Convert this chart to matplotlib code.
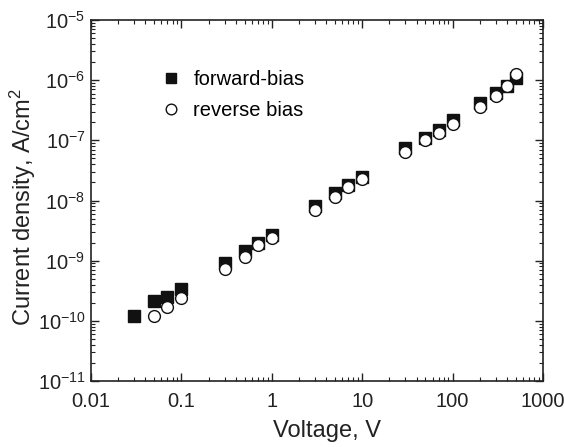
import matplotlib
matplotlib.use('Agg')
import matplotlib.pyplot as plt
from matplotlib.ticker import LogLocator, FixedLocator, FixedFormatter, NullFormatter

plt.rcParams['font.family'] = ['Liberation Sans', 'DejaVu Sans']
plt.rcParams['mathtext.fontset'] = 'custom'
plt.rcParams['mathtext.rm'] = 'Liberation Sans'
plt.rcParams['mathtext.it'] = 'Liberation Sans:italic'

# forward bias data
fwd_v = [0.03, 0.05, 0.07, 0.1, 0.3, 0.5, 0.7, 1, 3, 5, 7, 10,
         30, 50, 70, 100, 200, 300, 400, 500]
fwd_j = [1.2e-10, 2.1e-10, 2.5e-10, 3.4e-10, 9.0e-10, 1.45e-9, 2.0e-9, 2.7e-9,
         8.1e-9, 1.35e-8, 1.8e-8, 2.5e-8,
         7.4e-8, 1.1e-7, 1.5e-7, 2.2e-7, 4.2e-7, 6.1e-7, 8.0e-7, 1.1e-6]

# reverse bias data
rev_v = [0.05, 0.07, 0.1, 0.3, 0.5, 0.7, 1, 3, 5, 7, 10,
         30, 50, 70, 100, 200, 300, 400, 500]
rev_j = [1.2e-10, 1.7e-10, 2.4e-10, 7.2e-10, 1.15e-9, 1.8e-9, 2.4e-9,
         6.9e-9, 1.15e-8, 1.7e-8, 2.3e-8,
         6.5e-8, 1.0e-7, 1.3e-7, 1.9e-7, 3.6e-7, 5.5e-7, 8.0e-7, 1.26e-6]

x_ticks = [0.01, 0.1, 1, 10, 100, 1000]
x_labels = ['0.01', '0.1', '1', '10', '100', '1000']

fig = plt.figure(figsize=(5.64, 4.47), dpi=100)
ax = fig.add_axes([91/564, 1 - 381/447, (543-91)/564, (381-20)/447])

ax.plot(fwd_v, fwd_j, 's', color='#111111', ms=8, ls='none', label='forward-bias')
ax.plot(rev_v, rev_j, 'o', mfc='white', mec='#111111', mew=1.0, ms=8.5, ls='none',
        label='reverse bias')

ax.set_xscale('log')
ax.set_yscale('log')
ax.set_xlim(0.01, 1000)
ax.set_ylim(1e-11, 1e-5)

ax.xaxis.set_major_locator(FixedLocator(x_ticks))
ax.xaxis.set_major_formatter(FixedFormatter(x_labels))
ax.xaxis.set_minor_locator(LogLocator(base=10, subs=range(2, 10), numticks=20))
ax.xaxis.set_minor_formatter(NullFormatter())
ax.yaxis.set_major_locator(LogLocator(base=10, numticks=20))
ax.yaxis.set_minor_locator(LogLocator(base=10, subs=range(2, 10), numticks=20))
ax.yaxis.set_minor_formatter(NullFormatter())

ax.tick_params(which='both', direction='in', top=True, right=True, labelsize=14.5,
               color='#222222', labelcolor='#222222')
ax.tick_params(which='major', length=6, width=1)
ax.tick_params(which='minor', length=3, width=0.8)
ax.tick_params(axis='x', which='major', pad=8)
ax.tick_params(axis='y', which='major', pad=4)
for s in ax.spines.values():
    s.set_linewidth(1.2)
    s.set_color('#222222')

ax.set_xlabel('Voltage, V', fontsize=17, color='#222222')
ax.set_ylabel('Current density, A/cm$^2$', fontsize=17, color='#222222')
ax.xaxis.set_label_coords(0.522, -0.108)
ax.yaxis.set_label_coords(-0.117, 0.482)

ax.legend(loc='upper left', bbox_to_anchor=(0.115, 0.912), frameon=False, fontsize=14.5,
          handletextpad=0.6, labelspacing=0.6, handlelength=1.0, markerscale=0.9)

fig.savefig('out.png', dpi=100)
